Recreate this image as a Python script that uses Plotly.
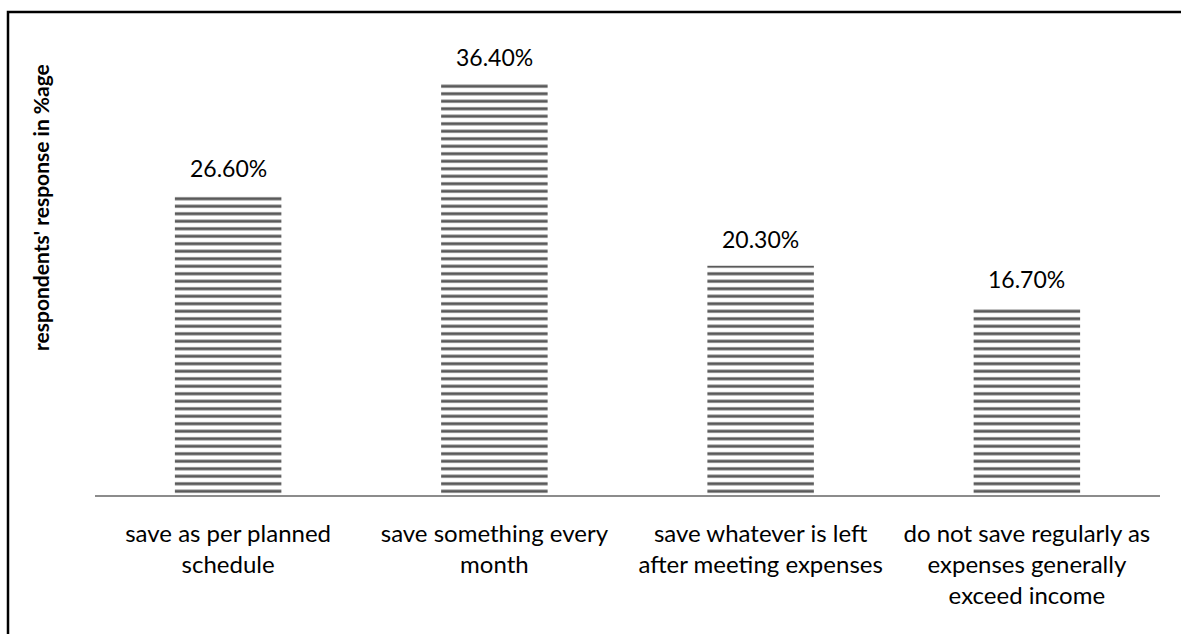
import plotly.graph_objects as go

categories = [
    "save as per planned<br>schedule",
    "save something every<br>month",
    "save whatever is left<br>after meeting expenses",
    "do not save regularly as<br>expenses generally<br>exceed income",
]
values = [26.6, 36.4, 20.3, 16.7]
labels = ["26.60%", "36.40%", "20.30%", "16.70%"]

FONT = "Lato, 'Open Sans', sans-serif"

fig = go.Figure()
fig.add_trace(go.Bar(
    x=categories,
    y=values,
    width=0.4,
    marker=dict(
        color="white",
        line=dict(width=0),
        pattern=dict(shape="-", size=7.5, solidity=0.4, fgcolor="#5a5a5a", bgcolor="white", fillmode="replace"),
    ),
    hoverinfo="skip",
))

for c, v, t in zip(categories, values, labels):
    fig.add_annotation(x=c, y=v, text=t, showarrow=False, yanchor="bottom", yshift=11,
                       font=dict(family=FONT, size=23, color="black"))

# Y-axis title as annotation
fig.add_annotation(xref="paper", yref="paper", x=(40 - 95) / 1065, y=(495 - 208) / 465,
                   text="<b>respondents' response in %age</b>", textangle=-90, showarrow=False,
                   xanchor="center", yanchor="middle",
                   font=dict(family=FONT, size=21, color="black"))

# Outer border
fig.add_shape(type="rect", xref="paper", yref="paper",
              x0=(8 - 95) / 1065, x1=(1200 - 95) / 1065,
              y0=(495 - 650) / 465, y1=(495 - 12) / 465,
              line=dict(color="black", width=2.5), fillcolor="rgba(0,0,0,0)", layer="below")

fig.update_layout(
    width=1181, height=634,
    margin=dict(l=95, r=21, t=30, b=139),
    paper_bgcolor="white", plot_bgcolor="white",
    showlegend=False,
    bargap=0.6,
    font=dict(family=FONT, size=24, color="black"),
)
fig.update_xaxes(showline=True, linecolor="#8c8c8c", linewidth=2, ticks="",
                 ticklabelstandoff=16, tickfont=dict(family=FONT, size=24, color="black"),
                 showgrid=False)
fig.update_yaxes(range=[0, 465 / 11.29], visible=False, showgrid=False, zeroline=False)

fig.write_html("out.html")
